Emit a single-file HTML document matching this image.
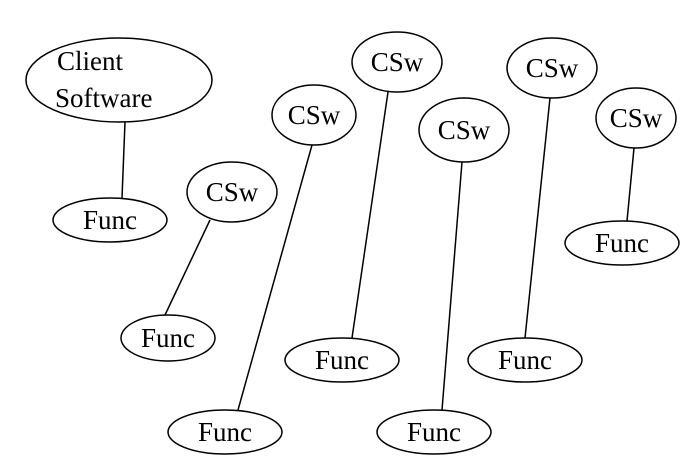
<!DOCTYPE html>
<html><head><style>html,body{margin:0;padding:0;background:#fff}</style></head>
<body>
<svg width="700" height="468" xmlns="http://www.w3.org/2000/svg" style="display:block">
<g fill="none" stroke="#000" stroke-width="1.5">
<ellipse cx="119" cy="80" rx="93" ry="42"/>
<line x1="125" y1="122" x2="122" y2="198"/>
<ellipse cx="110" cy="220" rx="57" ry="22"/>

<ellipse cx="232" cy="192" rx="45" ry="30"/>
<line x1="210" y1="220" x2="165" y2="315"/>
<ellipse cx="168" cy="338" rx="47" ry="23"/>

<ellipse cx="314" cy="115" rx="42" ry="30"/>
<line x1="312" y1="145" x2="238" y2="410"/>
<ellipse cx="225" cy="432" rx="57" ry="22"/>

<ellipse cx="397" cy="62" rx="45" ry="30"/>
<line x1="388" y1="92" x2="352" y2="338"/>
<ellipse cx="342" cy="360" rx="57" ry="22"/>

<ellipse cx="464" cy="130" rx="45" ry="32"/>
<line x1="462" y1="162" x2="442" y2="410"/>
<ellipse cx="434" cy="432" rx="57" ry="22"/>

<ellipse cx="552" cy="68" rx="45" ry="30"/>
<line x1="550" y1="98" x2="525" y2="338"/>
<ellipse cx="525" cy="360" rx="57" ry="22"/>

<ellipse cx="636" cy="118" rx="40" ry="30"/>
<line x1="634" y1="148" x2="627" y2="221"/>
<ellipse cx="622" cy="243" rx="57" ry="22"/>
</g>
<g font-family="Liberation Serif, serif" font-size="27" fill="#000" text-anchor="middle">
<text x="57" y="70" text-anchor="start">Client</text>
<text x="55" y="107" text-anchor="start">Software</text>
<text x="110" y="229">Func</text>
<text x="232" y="201">CSw</text>
<text x="168" y="347">Func</text>
<text x="314" y="124">CSw</text>
<text x="225" y="441">Func</text>
<text x="397" y="71">CSw</text>
<text x="342" y="369">Func</text>
<text x="464" y="139">CSw</text>
<text x="434" y="441">Func</text>
<text x="552" y="77">CSw</text>
<text x="525" y="369">Func</text>
<text x="636" y="127">CSw</text>
<text x="622" y="252">Func</text>
</g>
</svg>
</body></html>
